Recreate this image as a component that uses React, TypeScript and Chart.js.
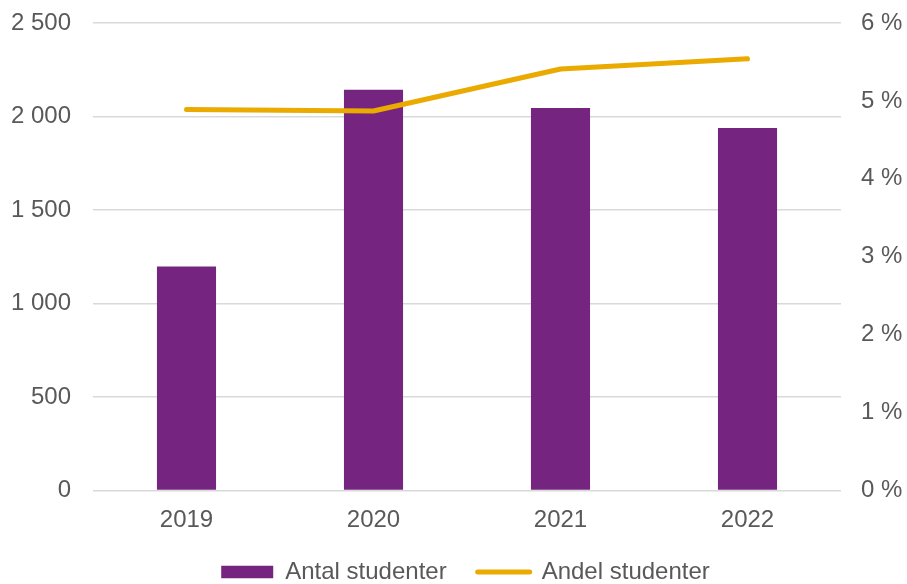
import React, { useEffect, useRef } from "react";
import { Chart, registerables } from "chart.js";

Chart.register(...registerables);

const categories = ["2019", "2020", "2021", "2022"];
const antalStudenter = [1198, 2143, 2046, 1938];
const andelStudenter = [4.89, 4.87, 5.41, 5.54];
const leftTicks = [0, 500, 1000, 1500, 2000, 2500];
const rightTicks = [0, 1, 2, 3, 4, 5, 6];

const PURPLE = "#75247F";
const ORANGE = "#EAAA00";
const TEXT = "#595959";
const GRID = "#D9D9D9";
const FONT = "'Liberation Sans', Arial, sans-serif";
const FS = 24;

const fmtThousands = (v: number) =>
  String(v).replace(/\B(?=(\d{3})+(?!\d))/g, " ");

const shiftLegend = {
  id: "shiftLegend",
  afterLayout(chart: any) {
    if (chart.legend) {
      chart.legend.left += 12;
      chart.legend.right += 12;
    }
  },
};

export default function App() {
  const ref = useRef<HTMLCanvasElement | null>(null);

  useEffect(() => {
    if (!ref.current) return;
    const chart = new Chart(ref.current, {
      data: {
        labels: categories,
        datasets: [
          {
            type: "bar",
            label: "Antal studenter",
            data: antalStudenter,
            backgroundColor: PURPLE,
            borderWidth: 0,
            barPercentage: 0.316,
            categoryPercentage: 1,
            yAxisID: "y",
            order: 2,
          },
          {
            type: "line",
            label: "Andel studenter",
            data: andelStudenter,
            borderColor: ORANGE,
            backgroundColor: ORANGE,
            borderWidth: 5,
            borderCapStyle: "round",
            borderJoinStyle: "round",
            pointRadius: 0,
            pointHoverRadius: 0,
            tension: 0,
            yAxisID: "y1",
            order: 1,
          },
        ],
      },
      plugins: [shiftLegend],
      options: {
        animation: false,
        responsive: false,
        maintainAspectRatio: false,
        layout: { padding: { top: 23, left: 0, right: 0, bottom: -10 } },
        plugins: {
          tooltip: { enabled: false },
          legend: {
            position: "bottom",
            labels: {
              usePointStyle: true,
              pointStyleWidth: 52,
              boxHeight: 12.5,
              padding: 31,
              color: TEXT,
              font: { family: FONT, size: FS },
              generateLabels: () => [
                {
                  text: "Antal studenter",
                  fillStyle: PURPLE,
                  strokeStyle: PURPLE,
                  lineWidth: 0,
                  pointStyle: "rect",
                  fontColor: TEXT,
                  datasetIndex: 0,
                  hidden: false,
                },
                {
                  text: "Andel studenter",
                  fillStyle: ORANGE,
                  strokeStyle: ORANGE,
                  lineWidth: 5,
                  lineCap: "round",
                  pointStyle: "line",
                  fontColor: TEXT,
                  datasetIndex: 1,
                  hidden: false,
                },
              ],
            },
          },
        },
        scales: {
          x: {
            grid: { display: false, drawTicks: false },
            border: { display: false },
            ticks: {
              color: TEXT,
              padding: 15,
              font: { family: FONT, size: FS },
              maxRotation: 0,
            },
            afterFit: (s: any) => {
              s.height = 38.5;
              s.paddingLeft = 0;
              s.paddingRight = 0;
            },
          },
          y: {
            position: "left",
            min: 0,
            max: 2500,
            afterBuildTicks: (s: any) => {
              s.ticks = leftTicks.map((v) => ({ value: v }));
            },
            grid: { color: GRID, lineWidth: 1.5, drawTicks: false },
            border: { display: false },
            ticks: {
              color: TEXT,
              padding: 22,
              font: { family: FONT, size: FS },
              callback: (v: any) => fmtThousands(Number(v)),
            },
            afterFit: (s: any) => {
              s.width = 93;
              s.paddingTop = 0;
              s.paddingBottom = 0;
            },
          },
          y1: {
            position: "right",
            min: 0,
            max: 6,
            afterBuildTicks: (s: any) => {
              s.ticks = rightTicks.map((v) => ({ value: v }));
            },
            grid: { display: false, drawTicks: false },
            border: { display: false },
            ticks: {
              color: TEXT,
              padding: 20,
              font: { family: FONT, size: FS },
              callback: (v: any) => `${v} %`,
            },
            afterFit: (s: any) => {
              s.width = 66;
              s.paddingTop = 0;
              s.paddingBottom = 0;
            },
          },
        },
      },
    } as any);
    return () => chart.destroy();
  }, []);

  return (
    <div
      style={{
        position: "fixed",
        left: 0,
        top: 0,
        width: 907,
        height: 584,
        background: "#ffffff",
      }}
    >
      <canvas ref={ref} width={907} height={584} style={{ display: "block" }} />
    </div>
  );
}
